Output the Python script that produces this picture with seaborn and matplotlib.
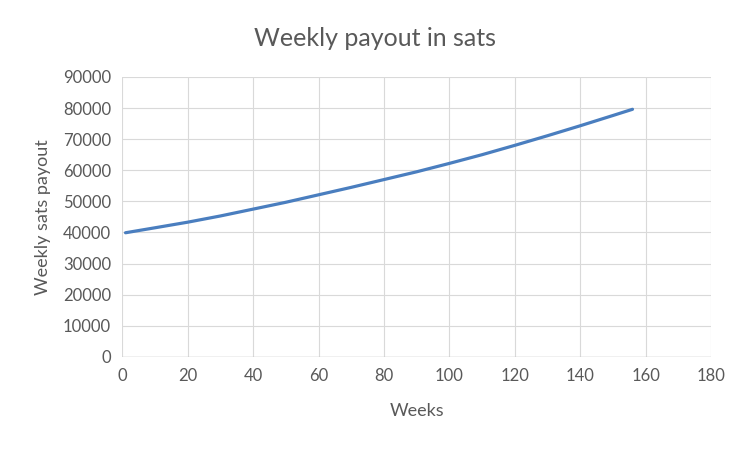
import pandas as pd
import matplotlib
matplotlib.use('Agg')
import matplotlib.pyplot as plt
import seaborn as sns

# values
weeks = [1, 10, 20, 30, 40, 50, 60, 70, 80, 90, 100, 110, 120, 130, 140, 150, 156]
payout = [39900, 41500, 43300, 45300, 47500, 49700, 52100, 54500, 57000,
          59500, 62200, 65000, 68000, 71100, 74300, 77600, 79600]

x_ticks = list(range(0, 181, 20))
y_ticks = list(range(0, 90001, 10000))

data = pd.DataFrame({'Weeks': weeks, 'Payout': payout})

sns.set_style('white')
plt.rcParams['font.family'] = ['Lato', 'DejaVu Sans']

fig = plt.figure(figsize=(7.5, 4.5), dpi=100)
ax = fig.add_axes([0.163, 0.207, 0.785, 0.622])

sns.lineplot(data=data, x='Weeks', y='Payout', ax=ax, color='#4A7EBF', linewidth=2.3)

ax.set_xlim(0, 180)
ax.set_ylim(0, 90000)
ax.set_xticks(x_ticks)
ax.set_yticks(y_ticks)
ax.grid(True, color='#d9d9d9', linewidth=0.8)
for s in ax.spines.values():
    s.set_visible(False)
ax.axhline(0, color='#bfbfbf', linewidth=1)
ax.tick_params(length=0, labelsize=12, colors='#595959', pad=8)

fig.text(0.5, 0.915, 'Weekly payout in sats', fontsize=18, color='#595959',
         ha='center', va='center')
ax.set_xlabel('Weeks', fontsize=13, color='#595959', labelpad=14)
ax.set_ylabel('Weekly sats payout', fontsize=13, color='#595959', labelpad=9)

fig.savefig('out.png', dpi=100)
